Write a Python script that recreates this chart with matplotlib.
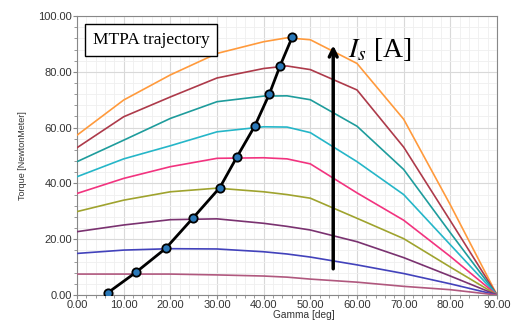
import matplotlib.pyplot as plt
from matplotlib.ticker import MultipleLocator, FormatStrFormatter

# gamma sample points [deg]
gamma = [0, 10, 20, 30, 40, 45, 50, 60, 70, 80, 90]

# torque curves [Nm], one per stator current, largest first
torque_1 = [57.3, 69.9, 78.9, 86.6, 90.8, 92.2, 91.5, 83.0, 63.0, 32.3, 0]
torque_2 = [52.8, 63.9, 71.0, 77.8, 81.2, 82.1, 80.8, 73.5, 53.0, 26.6, 0]
torque_3 = [47.8, 55.5, 63.3, 69.3, 71.3, 71.4, 70.0, 60.5, 45.0, 22.3, 0]
torque_4 = [42.4, 48.8, 53.5, 58.5, 60.3, 60.2, 58.2, 47.8, 36.0, 18.0, 0]
torque_5 = [36.4, 41.8, 46.0, 49.0, 49.2, 48.8, 47.0, 36.6, 26.8, 13.8, 0]
torque_6 = [29.9, 34.0, 37.0, 38.3, 37.0, 36.0, 34.7, 27.5, 20.2, 10.0, 0]
torque_7 = [22.7, 25.1, 27.0, 27.3, 25.7, 24.6, 23.3, 19.1, 13.4, 6.8, 0]
torque_8 = [14.9, 16.1, 16.6, 16.5, 15.5, 14.7, 13.6, 10.8, 7.7, 4.0, 0]
torque_9 = [7.5, 7.5, 7.5, 7.2, 6.8, 6.4, 5.7, 4.6, 3.1, 1.9, 0]

curves = [torque_1, torque_2, torque_3, torque_4, torque_5,
          torque_6, torque_7, torque_8, torque_9]
colors = ["#ff9a3c", "#ad3a4a", "#1e9c9c", "#25b6c8", "#f2337f",
          "#9fa32e", "#7a3270", "#4242bb", "#b0587e"]

# MTPA trajectory points
mtpa_gamma = [6.6, 12.6, 19.0, 24.9, 30.6, 34.2, 38.1, 41.2, 43.5, 46.1]
mtpa_torque = [0.8, 8.1, 16.7, 27.7, 38.5, 49.3, 60.6, 72.0, 82.1, 92.4]

plt.rcParams["mathtext.fontset"] = "stix"

fig = plt.figure(figsize=(5.24, 3.21), dpi=100)
ax = fig.add_axes([0.147, 0.081, 0.8015, 0.869])

for t, c in zip(curves, colors):
    ax.plot(gamma, t, color=c, lw=1.2, zorder=3)

ax.plot(mtpa_gamma, mtpa_torque, color="black", lw=2, zorder=4)
ax.plot(mtpa_gamma, mtpa_torque, "o", ms=6, mfc="#2a78b8",
        mec="black", mew=1.3, zorder=5)

# current direction arrow
ax.annotate("", xy=(54.9, 90.5), xytext=(54.9, 8.4),
            arrowprops=dict(arrowstyle="->", lw=2.5, color="black",
                            mutation_scale=14), zorder=6)
ax.text(58.0, 88.0, r"$I_s$ [A]", fontsize=20, family="Liberation Serif",
        ha="left", va="center", zorder=6)

ax.text(3.4, 91.5, "MTPA trajectory", fontsize=12.5, family="Liberation Serif",
        ha="left", va="center", zorder=7,
        bbox=dict(boxstyle="square,pad=0.45", fc="white", ec="black", lw=1))

ax.set_xlim(0, 90)
ax.set_ylim(0, 100)
ax.xaxis.set_major_locator(MultipleLocator(10))
ax.xaxis.set_minor_locator(MultipleLocator(2))
ax.yaxis.set_major_locator(MultipleLocator(20))
ax.yaxis.set_minor_locator(MultipleLocator(4))
ax.xaxis.set_major_formatter(FormatStrFormatter("%.2f"))
ax.yaxis.set_major_formatter(FormatStrFormatter("%.2f"))

ax.grid(which="major", color="#d9d9d9", lw=0.8, zorder=0)
ax.grid(which="minor", color="#efefef", lw=0.6, zorder=0)
ax.set_axisbelow(True)

ax.tick_params(which="both", direction="out", color="#888888")
ax.tick_params(which="major", length=3, labelsize=8, labelcolor="#333333", pad=0.5)
ax.tick_params(which="minor", length=2)
for lab in ax.get_xticklabels() + ax.get_yticklabels():
    lab.set_family("Liberation Sans")
for s in ax.spines.values():
    s.set_color("#888888")

ax.set_xlabel("Gamma [deg]", fontsize=7.3, family="Liberation Sans", color="#333333")
ax.xaxis.set_label_coords(0.54, -0.052)
ax.set_ylabel("Torque [NewtonMeter]", fontsize=6.5, family="Liberation Sans", color="#333333")
ax.yaxis.set_label_coords(-0.12, 0.5)

fig.savefig("out.png", dpi=100)
